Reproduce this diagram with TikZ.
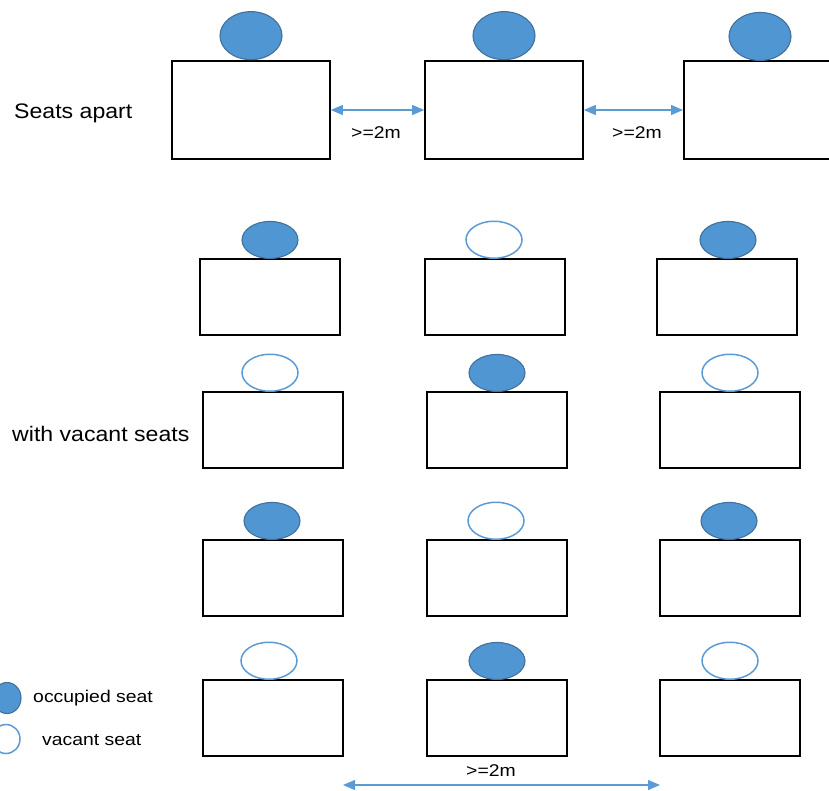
\documentclass[tikz,border=0pt]{standalone}
\usepackage{fontspec}
\setmainfont{Liberation Sans}
\usetikzlibrary{shapes.geometric,arrows.meta}
\definecolor{seatfill}{HTML}{5096D2}
\definecolor{seatedge}{HTML}{41719C}
\definecolor{vacedge}{HTML}{5B9BD5}
\definecolor{arrcol}{HTML}{5B9BD5}
\tikzset{
  desk/.style={draw=black,line width=1.6pt,rectangle,inner sep=0pt,minimum width=#1},
  desk/.default=140pt,
  occ/.style={ellipse,draw=seatedge,fill=seatfill,line width=1.1pt,inner sep=0pt},
  vac/.style={ellipse,draw=vacedge,fill=white,line width=1.5pt,inner sep=0pt},
  dim/.style={draw=arrcol,line width=1.2pt,{Triangle[length=12pt,width=10pt]}-{Triangle[length=12pt,width=10pt]}},
  biglbl/.style={font=\fontsize{21}{25}\selectfont,inner sep=0pt,xscale=1.1},
  smlbl/.style={font=\fontsize{17}{20}\selectfont,inner sep=0pt,xscale=1.14},
}
\begin{document}
\begin{tikzpicture}[x=1pt,y=-1pt]
\useasboundingbox (0,0) rectangle (829,790);
\clip (0,0) rectangle (829,790);
% top row
\node[desk=158pt,minimum height=98pt] (t1) at (251,110) {};
\node[desk=158pt,minimum height=98pt] (t2) at (504,110) {};
\node[desk=158pt,minimum height=98pt,anchor=west] (t3) at (683,110) {};
\node[occ,minimum width=62pt,minimum height=48pt,anchor=south] (ts1) at (t1.north) {};
\node[occ,minimum width=62pt,minimum height=48pt,anchor=south] (ts2) at (t2.north) {};
\node[occ,minimum width=62pt,minimum height=48pt,anchor=south] (ts3) at (760,61) {};
\draw[dim] (t1.east) -- (t2.west);
\draw[dim] (t2.east) -- (t3.west);
\node[smlbl] (l1) at (376,133) {>=2m};
\node[smlbl] (l2) at (637,133) {>=2m};
\node[biglbl,anchor=west] (sa) at (14,113) {Seats apart};
% grid rows
\node[desk,minimum height=76pt] (a1) at (270,297) {};
\node[desk,minimum height=76pt] (a2) at (495,297) {};
\node[desk,minimum height=76pt] (a3) at (727,297) {};
\node[desk,minimum height=76pt] (b1) at (273,430) {};
\node[desk,minimum height=76pt] (b2) at (497,430) {};
\node[desk,minimum height=76pt] (b3) at (730,430) {};
\node[desk,minimum height=76pt] (c1) at (273,578) {};
\node[desk,minimum height=76pt] (c2) at (497,578) {};
\node[desk,minimum height=76pt] (c3) at (730,578) {};
\node[desk,minimum height=76pt] (d1) at (273,718) {};
\node[desk,minimum height=76pt] (d2) at (497,718) {};
\node[desk,minimum height=76pt] (d3) at (730,718) {};
\tikzset{seatsz/.style={minimum width=56pt,minimum height=37pt,anchor=south}}
\node[occ,seatsz] (as1) at (270,259) {};
\node[vac,seatsz] (as2) at (494,259) {};
\node[occ,seatsz] (as3) at (728,259) {};
\node[vac,seatsz] (bs1) at (270,392) {};
\node[occ,seatsz] (bs2) at (497,392) {};
\node[vac,seatsz] (bs3) at (730,392) {};
\node[occ,seatsz] (cs1) at (272,540) {};
\node[vac,seatsz] (cs2) at (496,540) {};
\node[occ,seatsz] (cs3) at (729,540) {};
\node[vac,seatsz] (ds1) at (269,680) {};
\node[occ,seatsz] (ds2) at (497,680) {};
\node[vac,seatsz] (ds3) at (730,680) {};
\node[biglbl,anchor=west] (wv) at (12,434) {with vacant seats};
% bottom dimension
\coordinate (bl) at (343,785);
\coordinate (br) at (660,785);
\draw[dim] (bl) -- (br);
\node[smlbl] (l3) at (491,771) {>=2m};
% legend
\node[occ,minimum width=28pt,minimum height=31pt] (lo) at (7,698) {};
\node[vac,minimum width=28pt,minimum height=29pt] (lv) at (6,739) {};
\node[smlbl,anchor=west] (lot) at (33,698) {occupied seat};
\node[smlbl,anchor=west] (lvt) at (42,740) {vacant seat};
\end{tikzpicture}
\end{document}
